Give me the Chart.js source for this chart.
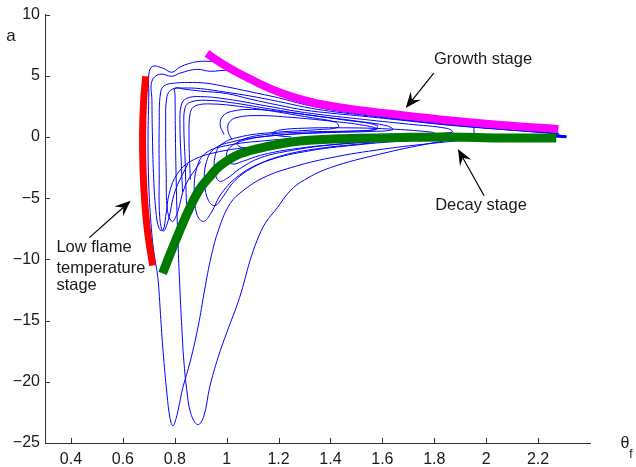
<!DOCTYPE html>
<html>
<head>
<meta charset="utf-8">
<script src="https://cdn.jsdelivr.net/npm/chart.js@4.4.0/dist/chart.umd.min.js"></script>
<style>
html, body { margin: 0; padding: 0; background: #fff; }
#wrap { width: 636px; height: 467px; }
</style>
</head>
<body>
<div id="wrap"><canvas id="myChart" width="636" height="467"></canvas></div>
<script>
// Axis ticks
const xTicks = [0.4, 0.6, 0.8, 1, 1.2, 1.4, 1.6, 1.8, 2, 2.2]
const yTicks = [-25, -20, -15, -10, -5, 0, 5, 10]

// Thick stage curves [theta_f, a]
const lowFlameStage = [[0.688,4.96],[0.680,2.93],[0.676,0.24],[0.678,-2.77],[0.684,-5.21],[0.696,-7.89],[0.715,-10.5]]
const growthStage = [[0.924,6.83],[0.97,6.15],[1.013,5.6],[1.08,4.85],[1.142,4.2],[1.21,3.6],[1.284,3.1],[1.361,2.7],[1.477,2.3],[1.67,1.8],[1.864,1.35],[2.057,0.98],[2.278,0.65]]
const decayStage = [[0.753,-11.15],[0.780,-9.68],[0.819,-7.65],[0.858,-5.78],[0.897,-4.23],[0.935,-3.25],[0.974,-2.36],[1.051,-1.38],[1.168,-0.73],[1.284,-0.33],[1.477,-0.12],[1.670,-0.04],[1.864,0],[2.057,-0.08],[2.270,-0.08]]

// Thin trajectories
const traj1 = [[2.3,0.08],[2.2,0.5],[2.057,0.9],[1.864,1.28],[1.67,1.75],[1.477,2.25],[1.361,2.66],[1.284,3.06],[1.21,3.56],[1.142,4.16],[1.08,4.8],[1.013,5.55],[0.97,6.1],[0.928,6.18],[0.897,6.18],[0.858,6.02],[0.819,5.70],[0.789,5.29],[0.754,5.62],[0.715,5.78],[0.70,5.13],[0.70,3.5],[0.697,0],[0.70,-4],[0.71,-7.5],[0.722,-9.8],[0.732,-11.0],[0.739,-12.5],[0.745,-14.5],[0.755,-17.5],[0.77,-21],[0.782,-23.0],[0.793,-23.6],[0.805,-23.0],[0.818,-21.8],[0.831,-20.5],[0.86,-18.3],[0.89,-15.5],[0.915,-12.5],[0.94,-9.8],[0.97,-7.5],[1.013,-5.45],[1.063,-4.39],[1.14,-3.34],[1.245,-2.52],[1.4,-1.7],[1.6,-1.0],[1.8,-0.5],[1.95,-0.2]]
const traj2 = [[2.27,0.45],[2.057,0.85],[1.864,1.22],[1.67,1.68],[1.477,2.17],[1.361,2.58],[1.284,2.98],[1.21,3.48],[1.142,4.08],[1.08,4.7],[1.013,5.4],[0.935,5.37],[0.885,5.53],[0.819,5.21],[0.789,4.96],[0.742,5.13],[0.712,4.56],[0.712,3],[0.714,0],[0.718,-3],[0.727,-6],[0.74,-7.5],[0.755,-7.6],[0.765,-6.5],[0.78,-4.5],[0.81,-3],[0.86,-2.0],[0.95,-1.3],[1.1,-0.8],[1.3,-0.4],[1.5,-0.2]]
const traj3 = [[2.28,0.25],[2.1,0.55],[1.864,0.95],[1.67,1.38],[1.5,1.75],[1.4,1.95],[1.3,2.2],[1.2,2.6],[1.09,3.1],[1.0,3.55],[0.9,3.75],[0.84,3.9],[0.80,3.99],[0.801,3.5],[0.802,1],[0.805,-3],[0.809,-6.5],[0.814,-9.5],[0.82,-12.5],[0.827,-15.5],[0.835,-18.3],[0.846,-20.6],[0.862,-22.6],[0.889,-23.5],[0.912,-22.8],[0.935,-20.4],[0.967,-18],[1.0,-16.0],[1.05,-13.1],[1.09,-10.1],[1.117,-8.46],[1.15,-7],[1.195,-5.78],[1.245,-4.39],[1.30,-3.5],[1.40,-2.5],[1.59,-1.4],[1.79,-0.5],[1.90,-0.15],[2.0,-0.05]]
const loopA = [[0.83,-4.5],[0.825,-2],[0.82,1],[0.825,2.6],[0.845,3.15],[0.9,3.3],[1.0,3.1],[1.15,2.55],[1.3,2.0],[1.5,1.5],[1.7,1.05],[1.85,0.7],[1.87,0.4],[1.75,0.25],[1.55,0.15],[1.35,0.0],[1.15,-0.3],[1.0,-0.7],[0.92,-1.3],[0.885,-2.5],[0.875,-4.5],[0.885,-6.3],[0.91,-6.9],[0.94,-6.2],[0.98,-4.6],[1.05,-3.1],[1.15,-2.0],[1.3,-1.2],[1.5,-0.65],[1.7,-0.3],[1.9,-0.12]]
const loopB = [[0.845,-5.5],[0.84,-2],[0.835,1],[0.84,2.4],[0.86,2.85],[0.92,3.0],[1.02,2.8],[1.15,2.35],[1.3,1.85],[1.45,1.4],[1.58,0.95],[1.57,0.6],[1.45,0.45],[1.3,0.3],[1.15,0.05],[1.02,-0.4],[0.95,-1.0],[0.92,-2.2],[0.915,-3.8],[0.93,-5.2],[0.955,-5.6],[0.985,-4.9],[1.03,-3.6],[1.1,-2.5],[1.2,-1.6],[1.35,-0.95],[1.55,-0.5]]
const loopC = [[0.86,-3.5],[0.855,0],[0.86,2.0],[0.88,2.55],[0.94,2.7],[1.05,2.5],[1.18,2.1],[1.32,1.6],[1.42,1.2],[1.43,0.8],[1.35,0.6],[1.2,0.4],[1.06,0.05],[0.98,-0.6],[0.955,-1.6],[0.955,-2.8],[0.97,-3.6],[1.0,-3.4],[1.05,-2.6],[1.13,-1.7],[1.25,-1.1],[1.4,-0.65],[1.6,-0.35]]
const loopD = [[0.99,0.2],[0.975,1.0],[0.985,1.7],[1.02,2.1],[1.1,2.25],[1.22,2.05],[1.35,1.7],[1.5,1.3],[1.62,0.9],[1.64,0.6],[1.55,0.45],[1.38,0.35],[1.2,0.15],[1.07,-0.25],[1.01,-0.9],[1.0,-1.7],[1.02,-2.2],[1.06,-2.0],[1.13,-1.5],[1.25,-1.0],[1.45,-0.55],[1.65,-0.3]]
const loopE = [[1.02,-0.2],[1.005,0.5],[1.01,1.2],[1.04,1.6],[1.12,1.75],[1.25,1.6],[1.4,1.3],[1.53,0.95],[1.58,0.65],[1.5,0.5],[1.32,0.42],[1.15,0.2],[1.06,-0.2],[1.04,-0.6],[1.07,-0.9],[1.15,-0.8],[1.3,-0.55],[1.5,-0.3]]
const loopF = [[1.25,0.0],[1.2,0.1],[1.175,0.25],[1.2,0.55],[1.3,0.72],[1.45,0.75],[1.6,0.68],[1.74,0.5],[1.8,0.33],[1.72,0.2],[1.55,0.12],[1.38,0.05],[1.3,0.02]]
const loopG = [[0.85,-2.2],[0.8,-4.5],[0.775,-6.8],[0.755,-7.7],[0.742,-6.5],[0.74,-3],[0.74,1],[0.745,3.6],[0.76,4.2],[0.8,4.4],[0.85,4.45],[0.92,4.4],[1.0,4.1],[1.09,3.7],[1.2,3.2],[1.3,2.65],[1.4,2.22],[1.5,1.92],[1.67,1.47],[1.864,1.02],[2.057,0.63],[2.28,0.3]]
const loopH = [[0.9,-2.0],[0.84,-4],[0.81,-6.2],[0.79,-6.9],[0.772,-6],[0.767,-3],[0.765,1],[0.77,3.3],[0.79,3.9],[0.83,4.0],[0.9,3.95],[1.0,3.65],[1.09,3.35],[1.2,2.9],[1.3,2.45],[1.4,2.1],[1.5,1.85],[1.67,1.42],[1.864,0.98],[2.1,0.58],[2.27,0.3]]
const shortTick = [[1.953,1.45],[1.953,0.3]]
const endTip = [[2.25,0.1],[2.31,0.02]]

// Annotations
const labelGrowth = { text: 'Growth stage', x: 1.988, y: 6.35 }
const labelDecay = { text: 'Decay stage', x: 1.98, y: -5.61 }
const labelLow = { lines: ['Low flame', 'temperature', 'stage'], x: 0.344, y: [-9.03, -10.74, -12.12] }
const arrows = [
    { from: [1.798, 5.21], to: [1.690, 2.36] },
    { from: [1.992, -4.80], to: [1.891, -0.98] },
    { from: [0.471, -8.22], to: [0.630, -5.21] }
]

const axisColor = '#333'
const textColor = '#1a1a1a'
const fontFamily = '"Liberation Sans", Arial, Helvetica, sans-serif'

function pts(arr) {
    return arr.map(function (p) { return { x: p[0], y: p[1] } })
}

function thin(arr, width) {
    return {
        data: pts(arr),
        showLine: true,
        borderColor: '#0000ff',
        borderWidth: width || 1,
        pointRadius: 0,
        tension: 0.4,
        order: 2
    }
}

function thick(arr, color, width) {
    return {
        data: pts(arr),
        showLine: true,
        borderColor: color,
        borderWidth: width,
        pointRadius: 0,
        tension: 0.4,
        order: 0
    }
}

function drawArrow(ctx, x1, y1, x2, y2) {
    const ang = Math.atan2(y2 - y1, x2 - x1)
    const c = Math.cos(ang), s = Math.sin(ang)
    const len = 16, half = 6.5, back = 10
    ctx.beginPath()
    ctx.moveTo(x1, y1)
    ctx.lineTo(x2 - c * back, y2 - s * back)
    ctx.stroke()
    ctx.beginPath()
    ctx.moveTo(x2, y2)
    ctx.lineTo(x2 - c * len - s * half, y2 - s * len + c * half)
    ctx.lineTo(x2 - c * back, y2 - s * back)
    ctx.lineTo(x2 - c * len + s * half, y2 - s * len - c * half)
    ctx.closePath()
    ctx.fill()
}

const overlay = {
    id: 'overlay',
    afterDatasetsDraw(chart) {
        const ctx = chart.ctx
        const xs = chart.scales.x
        const ys = chart.scales.y
        const area = chart.chartArea
        ctx.save()

        // inward ticks
        ctx.strokeStyle = axisColor
        ctx.lineWidth = 1
        ctx.beginPath()
        xTicks.forEach(function (v) {
            const px = Math.round(xs.getPixelForValue(v)) + 0.5
            ctx.moveTo(px, area.bottom)
            ctx.lineTo(px, area.bottom - 5)
        })
        yTicks.forEach(function (v) {
            const py = Math.round(ys.getPixelForValue(v)) + 0.5
            ctx.moveTo(area.left, py)
            ctx.lineTo(area.left + 5, py)
        })
        ctx.stroke()

        // annotation text
        ctx.fillStyle = textColor
        ctx.font = '16.5px ' + fontFamily
        ctx.textBaseline = 'middle'
        ctx.textAlign = 'center'
        ctx.fillText(labelGrowth.text, xs.getPixelForValue(labelGrowth.x), ys.getPixelForValue(labelGrowth.y))
        ctx.fillText(labelDecay.text, xs.getPixelForValue(labelDecay.x), ys.getPixelForValue(labelDecay.y))
        ctx.textAlign = 'left'
        labelLow.lines.forEach(function (line, i) {
            ctx.fillText(line, xs.getPixelForValue(labelLow.x), ys.getPixelForValue(labelLow.y[i]))
        })

        // arrows
        ctx.strokeStyle = '#000'
        ctx.fillStyle = '#000'
        ctx.lineWidth = 1.2
        arrows.forEach(function (a) {
            drawArrow(ctx,
                xs.getPixelForValue(a.from[0]), ys.getPixelForValue(a.from[1]),
                xs.getPixelForValue(a.to[0]), ys.getPixelForValue(a.to[1]))
        })

        // axis labels
        ctx.fillStyle = textColor
        ctx.textAlign = 'center'
        ctx.font = '17px ' + fontFamily
        ctx.fillText('a', 11, 36)
        ctx.font = '16px ' + fontFamily
        ctx.fillText('\u03b8', 625, 444)
        ctx.font = '12px ' + fontFamily
        ctx.fillText('f', 631, 455)

        ctx.restore()
    }
}

function tickLabel(value) {
    return String(Math.round(value * 10) / 10).replace('-', '\u2212')
}

const datasets = [
    thick(growthStage, '#ff00ff', 8),
    thick(decayStage, '#007a00', 9),
    thick(lowFlameStage, '#ff0000', 7),
    thin(traj1), thin(traj2), thin(traj3),
    thin(loopA), thin(loopB), thin(loopC), thin(loopD), thin(loopE), thin(loopF),
    thin(loopG), thin(loopH), thin(shortTick), thin(endTip, 3)
]

const myChart = document.getElementById('myChart')

const chart = new Chart(myChart, {
    type: 'scatter',
    data: { datasets: datasets },
    options: {
        responsive: false,
        animation: false,
        layout: { padding: { top: 13, right: 46, left: 0, bottom: 0 } },
        plugins: { legend: { display: false }, tooltip: { enabled: false } },
        scales: {
            x: {
                type: 'linear',
                min: 0.3,
                max: 2.4,
                afterBuildTicks: function (scale) { scale.ticks = xTicks.map(function (v) { return { value: v } }) },
                afterFit: function (scale) { scale.height = 24 },
                grid: { display: false, drawTicks: false },
                border: { display: true, color: axisColor, width: 1 },
                ticks: { padding: 7, color: textColor, font: { size: 16, family: fontFamily }, callback: tickLabel, maxRotation: 0, autoSkip: false }
            },
            y: {
                type: 'linear',
                min: -25,
                max: 10,
                afterBuildTicks: function (scale) { scale.ticks = yTicks.map(function (v) { return { value: v } }) },
                afterFit: function (scale) { scale.width = 45 },
                grid: { display: false, drawTicks: false },
                border: { display: true, color: axisColor, width: 1 },
                ticks: { padding: 5, color: textColor, font: { size: 16, family: fontFamily }, callback: tickLabel, autoSkip: false }
            }
        }
    },
    plugins: [overlay]
})
</script>
</body>
</html>
